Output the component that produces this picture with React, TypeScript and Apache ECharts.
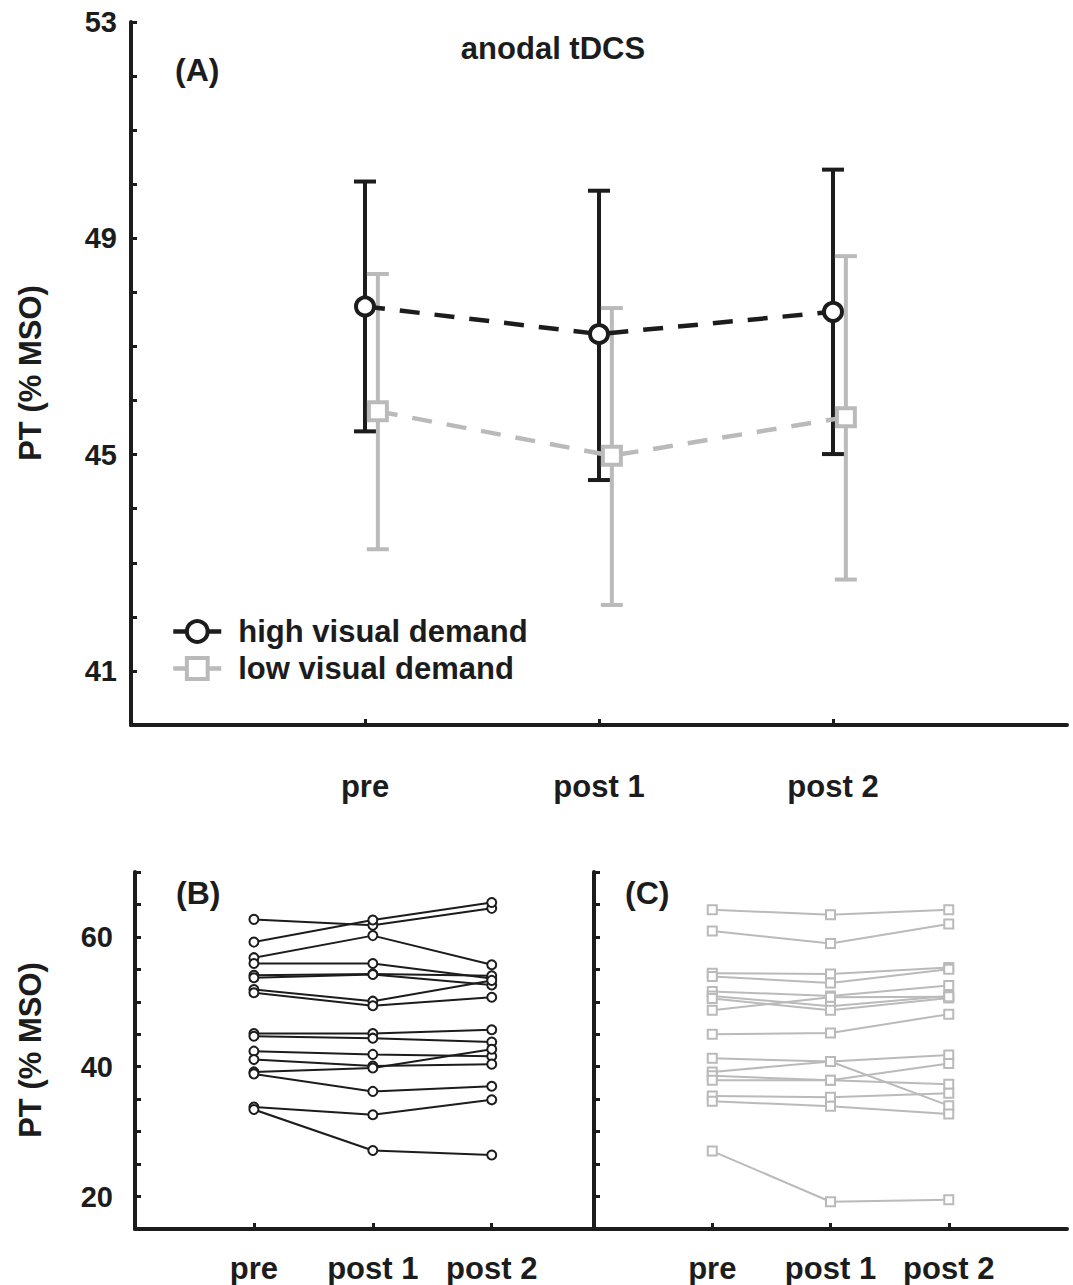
import React, { useEffect, useRef } from "react";
import * as echarts from "echarts";

// ---------- data ----------
const timepoints = ["pre", "post 1", "post 2"];

// Panel A: group means with error bars (PT, % MSO)
const highMean = [47.74, 47.23, 47.64];
const highUpper = [50.05, 49.88, 50.27];
const highLower = [45.43, 44.53, 45.01];

const lowMean = [45.8, 44.98, 45.69];
const lowUpper = [48.34, 47.71, 48.67];
const lowLower = [43.25, 42.22, 42.69];

const panelATickLabels = [41, 45, 49, 53];
const panelBCTickLabels = [20, 40, 60];

// Panel B: individual subjects, high visual demand [pre, post 1, post 2]
const highSubjects = [
  [62.7, 61.8, 64.4],
  [59.2, 62.6, 65.3],
  [56.8, 60.2, 55.7],
  [55.9, 55.9, 53.6],
  [54.1, 54.3, 54.0],
  [53.7, 54.2, 52.6],
  [51.9, 50.1, 53.3],
  [51.4, 49.4, 50.7],
  [45.1, 45.1, 45.7],
  [44.7, 44.4, 43.8],
  [42.4, 41.9, 41.6],
  [41.1, 40.1, 40.4],
  [39.2, 39.8, 42.7],
  [38.9, 36.2, 37.0],
  [33.8, 32.6, 34.9],
  [33.4, 27.1, 26.4],
];

// Panel C: individual subjects, low visual demand [pre, post 1, post 2]
const lowSubjects = [
  [64.2, 63.4, 64.2],
  [60.9, 59.0, 62.0],
  [54.4, 54.3, 55.3],
  [53.9, 52.9, 55.0],
  [51.6, 50.9, 52.5],
  [50.9, 49.3, 50.9],
  [50.5, 48.7, 50.6],
  [48.7, 50.7, 50.8],
  [45.0, 45.2, 48.1],
  [41.3, 40.8, 41.8],
  [39.2, 40.8, 34.0],
  [38.6, 37.9, 40.5],
  [37.9, 37.9, 37.3],
  [35.5, 35.3, 35.9],
  [34.7, 33.9, 32.7],
  [27.0, 19.2, 19.5],
];

// ---------- styling ----------
const INK = "#1c1c1c";
const GREY = "#bababa";
const FONT = '"Liberation Sans", Arial, Helvetica, sans-serif';
const LOW_OFFSET = 0.055;

function xAxis(gridIndex: number, max: number, margin: number) {
  return {
    type: "value",
    gridIndex,
    min: 0,
    max,
    interval: 1,
    axisLine: { show: true, onZero: false, lineStyle: { color: INK, width: 4 } },
    axisTick: {
      show: true,
      inside: true,
      length: 6,
      customValues: [1, 2, 3],
      lineStyle: { color: INK, width: 3 },
    },
    axisLabel: {
      show: true,
      customValues: [1, 2, 3],
      margin,
      formatter: (v: number) => {
        const i = Math.round(v) - 1;
        return Math.abs(v - Math.round(v)) < 1e-6 && timepoints[i] ? timepoints[i] : "";
      },
      fontSize: 31,
      fontWeight: "bold",
      fontFamily: FONT,
      color: INK,
    },
    splitLine: { show: false },
  };
}

function yAxis(
  gridIndex: number,
  min: number,
  max: number,
  interval: number,
  labels: number[] | null,
  margin: number
) {
  return {
    type: "value",
    gridIndex,
    min,
    max,
    interval,
    axisLine: { show: true, onZero: false, lineStyle: { color: INK, width: 4 } },
    axisTick: { show: true, inside: true, length: 6, lineStyle: { color: INK, width: 3 } },
    axisLabel: {
      show: !!labels,
      margin,
      formatter: (v: number) => (labels && labels.includes(v) ? String(v) : ""),
      fontSize: 29,
      fontWeight: "bold",
      fontFamily: FONT,
      color: INK,
    },
    splitLine: { show: false },
  };
}

function errorBarSeries(x0: number, lower: number[], upper: number[], color: string) {
  return {
    type: "custom",
    xAxisIndex: 0,
    yAxisIndex: 0,
    silent: true,
    z: 1,
    encode: { x: 0, y: [1, 2] },
    data: lower.map((lo, i) => [i + 1 + x0, lo, upper[i]]),
    renderItem: (params: any, api: any) => {
      const x = api.value(0);
      const lo = api.coord([x, api.value(1)]);
      const hi = api.coord([x, api.value(2)]);
      const half = 11;
      const style = { stroke: color, lineWidth: 4 };
      return {
        type: "group",
        children: [
          { type: "line", shape: { x1: lo[0], y1: lo[1], x2: hi[0], y2: hi[1] }, style },
          { type: "line", shape: { x1: hi[0] - half, y1: hi[1], x2: hi[0] + half, y2: hi[1] }, style },
          { type: "line", shape: { x1: lo[0] - half, y1: lo[1], x2: lo[0] + half, y2: lo[1] }, style },
        ],
      };
    },
  };
}

function subjectSeries(
  subjects: number[][],
  axisIndex: number,
  color: string,
  symbol: string,
  size: number
) {
  return subjects.map((s) => ({
    type: "line",
    xAxisIndex: axisIndex,
    yAxisIndex: axisIndex,
    silent: true,
    data: s.map((v, i) => [i + 1, v]),
    symbol,
    symbolSize: size,
    showSymbol: true,
    itemStyle: { color: "#ffffff", borderColor: color, borderWidth: 2 },
    lineStyle: { color, width: 2 },
    z: 3,
  }));
}

const textStyle = (size: number) => ({
  fontSize: size,
  fontWeight: "bold",
  fontFamily: FONT,
  fill: INK,
});

export default function App() {
  const ref = useRef<HTMLDivElement>(null);

  useEffect(() => {
    if (!ref.current) return;
    const chart = echarts.init(ref.current, undefined, { renderer: "svg" });

    const option: any = {
      animation: false,
      backgroundColor: "#ffffff",
      grid: [
        { left: 131, top: 22, width: 936, height: 703 },
        { left: 135, top: 872, width: 459, height: 357 },
        { left: 594, top: 872, width: 473, height: 357 },
      ],
      xAxis: [xAxis(0, 4, 46), xAxis(1, 3.86, 24), xAxis(2, 4, 24)],
      yAxis: [
        yAxis(0, 40, 53, 1, panelATickLabels, 14),
        yAxis(1, 15, 70, 5, panelBCTickLabels, 22),
        yAxis(2, 15, 70, 5, null, 22),
      ],
      legend: {
        show: true,
        orient: "vertical",
        left: 166,
        top: 611,
        itemWidth: 48,
        itemHeight: 26,
        itemGap: 6,
        selectedMode: false,
        data: ["high visual demand", "low visual demand"],
        lineStyle: { type: "solid", width: 4.5 },
        itemStyle: { borderWidth: 4 },
        textStyle: {
          fontSize: 31,
          fontWeight: "bold",
          fontFamily: FONT,
          color: INK,
          padding: [0, 0, 0, 12],
        },
      },
      series: [
        errorBarSeries(0, highLower, highUpper, INK),
        errorBarSeries(LOW_OFFSET, lowLower, lowUpper, GREY),
        {
          name: "high visual demand",
          type: "line",
          xAxisIndex: 0,
          yAxisIndex: 0,
          data: highMean.map((v, i) => [i + 1, v]),
          symbol: "circle",
          symbolSize: 18,
          itemStyle: { color: "#ffffff", borderColor: INK, borderWidth: 4 },
          lineStyle: { color: INK, width: 4.5, type: [20, 15] },
          z: 5,
        },
        {
          name: "low visual demand",
          type: "line",
          xAxisIndex: 0,
          yAxisIndex: 0,
          data: lowMean.map((v, i) => [i + 1 + LOW_OFFSET, v]),
          symbol: "rect",
          symbolSize: 18,
          itemStyle: { color: "#ffffff", borderColor: GREY, borderWidth: 4 },
          lineStyle: { color: GREY, width: 4.5, type: [20, 15] },
          z: 4,
        },
        ...subjectSeries(highSubjects, 1, INK, "circle", 9),
        ...subjectSeries(lowSubjects, 2, GREY, "rect", 9),
      ],
      graphic: [
        { type: "text", x: 175, y: 70, style: { ...textStyle(32), text: "(A)", align: "left", verticalAlign: "middle" } },
        { type: "text", x: 553, y: 48, style: { ...textStyle(31), text: "anodal tDCS", align: "center", verticalAlign: "middle" } },
        { type: "text", x: 176, y: 893, style: { ...textStyle(32), text: "(B)", align: "left", verticalAlign: "middle" } },
        { type: "text", x: 625, y: 893, style: { ...textStyle(32), text: "(C)", align: "left", verticalAlign: "middle" } },
        {
          type: "text",
          x: 30,
          y: 373,
          rotation: Math.PI / 2,
          style: { ...textStyle(31), text: "PT (% MSO)", align: "center", verticalAlign: "middle" },
        },
        {
          type: "text",
          x: 30,
          y: 1050,
          rotation: Math.PI / 2,
          style: { ...textStyle(31), text: "PT (% MSO)", align: "center", verticalAlign: "middle" },
        },
      ],
    };

    chart.setOption(option);
    return () => chart.dispose();
  }, []);

  return (
    <div
      ref={ref}
      style={{ position: "absolute", left: 0, top: 0, width: 1073, height: 1285, background: "#fff" }}
    />
  );
}
